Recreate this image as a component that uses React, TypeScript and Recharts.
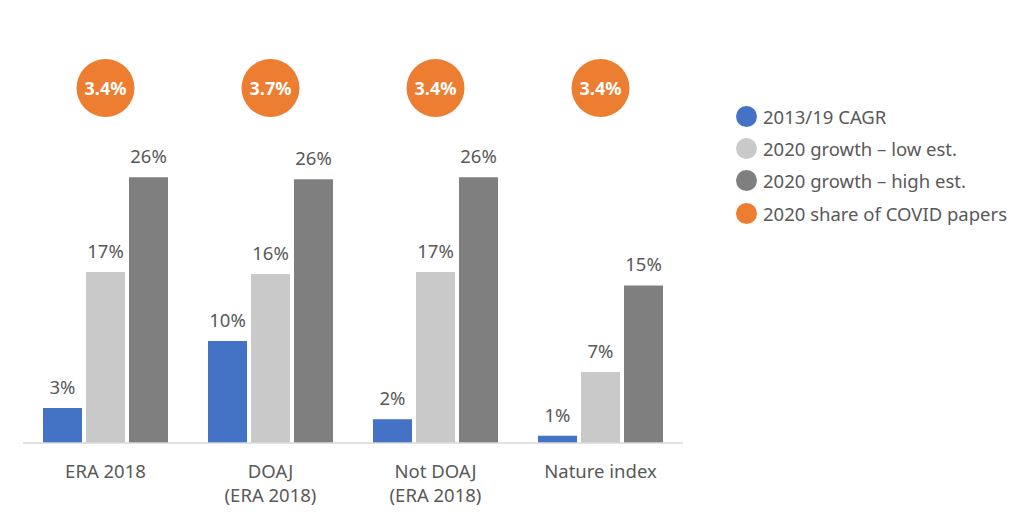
import { BarChart, Bar, XAxis, YAxis, LabelList } from 'recharts';

const categories = ['ERA 2018', 'DOAJ\n(ERA 2018)', 'Not DOAJ\n(ERA 2018)', 'Nature index'];
const cagr = [3.4, 9.9, 2.3, 0.7];
const lowEst = [16.6, 16.4, 16.6, 6.9];
const highEst = [25.8, 25.6, 25.8, 15.3];
const covidShare = [3.4, 3.7, 3.4, 3.4];

const seriesNames = ['2013/19 CAGR', '2020 growth – low est.', '2020 growth – high est.', '2020 share of COVID papers'];
const seriesColors = ['#4472C4', '#C9C9C9', '#7F7F7F', '#ED7D31'];

const FONT = '"Segoe UI", "Noto Sans", sans-serif';
const TEXT = '#595959';
const FS = 18.5;

const data = categories.map((name, i) => ({
  name,
  cagr: cagr[i],
  low: lowEst[i],
  high: highEst[i],
  covid: covidShare[i],
}));

const pct = (v: unknown) => `${Math.round(Number(v))}%`;

function CategoryTick({ x, y, payload }: any) {
  const lines = String(payload.value).split('\n');
  return (
    <text x={x} y={y} textAnchor="middle" fill={TEXT} fontSize={FS} fontFamily={FONT}>
      {lines.map((l, i) => (
        <tspan key={i} x={x} dy={i === 0 ? 0 : 24}>{l}</tspan>
      ))}
    </text>
  );
}

function ShareTick({ x, y, payload }: any) {
  const row = data.find((d) => d.name === payload.value);
  return (
    <g>
      <circle cx={x} cy={y} r={29} fill={seriesColors[3]} />
      <text x={x} y={y} dy={6.5} textAnchor="middle" fill="#fff" fontSize={18} fontWeight="bold" fontFamily={FONT}>
        {row ? `${row.covid.toFixed(1)}%` : ''}
      </text>
    </g>
  );
}

function LegendBox() {
  return (
    <div style={{ position: 'absolute', left: 736, top: 100, fontFamily: FONT, fontSize: FS, color: TEXT }}>
      {seriesNames.map((n, i) => (
        <div key={n} style={{ display: 'flex', alignItems: 'center', height: 32.4 }}>
          <span style={{ width: 21, height: 21, borderRadius: '50%', background: seriesColors[i], marginRight: 6, flex: 'none' }} />
          <span style={{ whiteSpace: 'nowrap' }}>{n}</span>
        </div>
      ))}
    </div>
  );
}

export default function App() {
  return (
    <div style={{ position: 'absolute', left: 0, top: 0, width: 1024, height: 524, background: '#fff' }}>
      <BarChart
        width={1024}
        height={524}
        data={data}
        margin={{ top: 0, right: 341, bottom: 0, left: 23 }}
        barCategoryGap={20}
        barGap={4}
      >
        <XAxis
          xAxisId="bottom"
          dataKey="name"
          height={81}
          axisLine={{ stroke: '#D9D9D9', strokeWidth: 1.5 }}
          tickLine={false}
          tickSize={0}
          tickMargin={35}
          interval={0}
          tick={<CategoryTick />}
        />
        <XAxis
          xAxisId="top"
          orientation="top"
          dataKey="name"
          height={134}
          axisLine={false}
          tickLine={false}
          tickSize={0}
          tickMargin={46}
          interval={0}
          tick={<ShareTick />}
        />
        <YAxis hide domain={[0, 30]} />
        <Bar xAxisId="bottom" dataKey="cagr" name={seriesNames[0]} fill={seriesColors[0]} isAnimationActive={false}>
          <LabelList dataKey="cagr" position="top" offset={14} formatter={pct} fill={TEXT} fontSize={FS} fontFamily={FONT} />
        </Bar>
        <Bar xAxisId="bottom" dataKey="low" name={seriesNames[1]} fill={seriesColors[1]} isAnimationActive={false}>
          <LabelList dataKey="low" position="top" offset={14} formatter={pct} fill={TEXT} fontSize={FS} fontFamily={FONT} />
        </Bar>
        <Bar xAxisId="bottom" dataKey="high" name={seriesNames[2]} fill={seriesColors[2]} isAnimationActive={false}>
          <LabelList dataKey="high" position="top" offset={14} formatter={pct} fill={TEXT} fontSize={FS} fontFamily={FONT} />
        </Bar>
      </BarChart>
      <LegendBox />
    </div>
  );
}
